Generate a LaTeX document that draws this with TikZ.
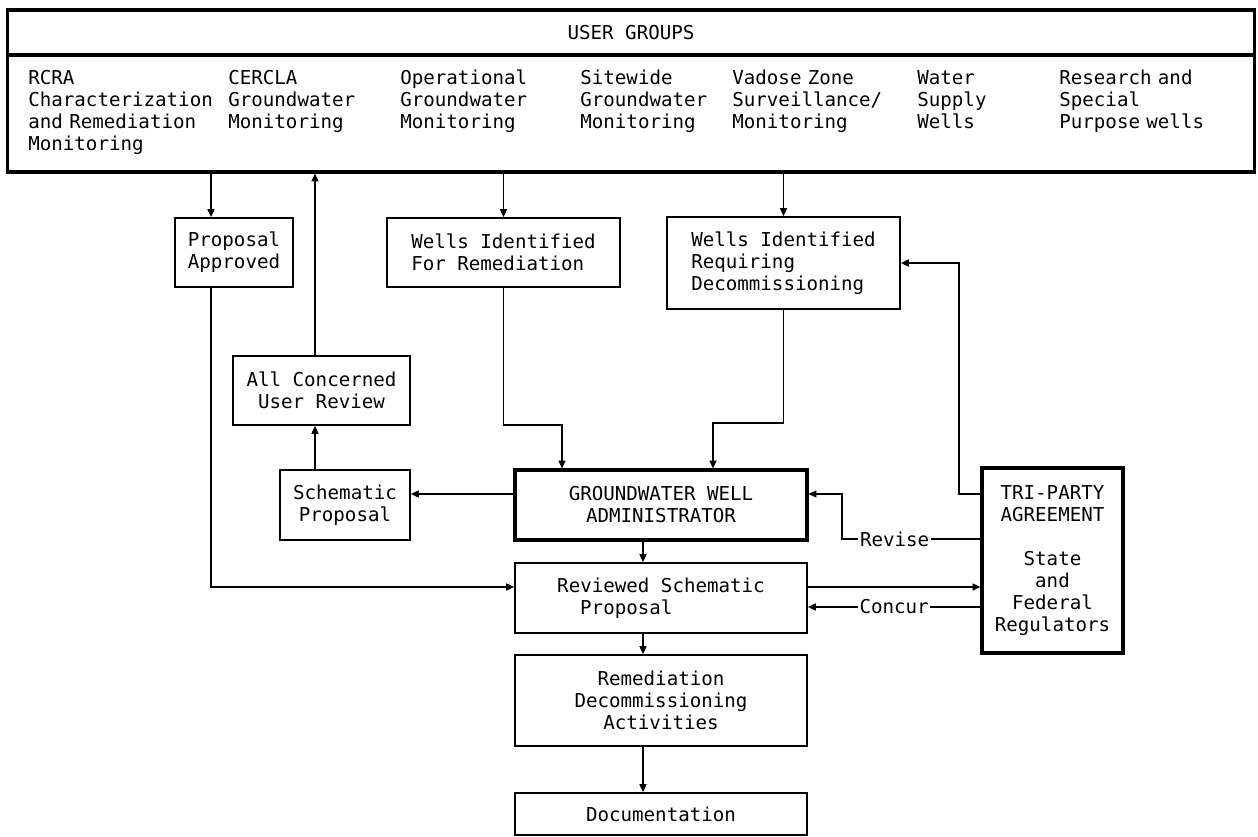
\documentclass[tikz,border=0pt]{standalone}
\usepackage{fontspec}
\setmonofont{DejaVu Sans Mono}
\usetikzlibrary{arrows.meta}

\begin{document}
\begin{tikzpicture}[x=0.02cm, y=-0.02cm,
  font=\ttfamily\fontsize{10.9}{12.5}\selectfont,
  box/.style={draw, line width=1pt, align=center, inner sep=2pt},
  heavy/.style={box, line width=1.8pt},
  grp/.style={anchor=base west, align=left, text width=4cm, inner sep=0pt},
  flow/.style={line width=0.8pt, -{Triangle[length=4.5pt, width=4pt]}},
  lbl/.style={fill=white, inner sep=1pt}]
\useasboundingbox (0,0) rectangle (1258,837);

% user groups
\node[heavy, minimum width=24.96cm, minimum height=0.9cm] (hdr) at (631,32.5) {USER GROUPS};
\node[heavy, minimum width=24.96cm, minimum height=2.34cm] (users) at (631,113.5) {};
\node[grp] (rcra) at (28,85) {RCRA\\Characterization\\and Remediation\\Monitoring};
\node[grp] (cercla) at (228,85) {CERCLA\\Groundwater\\Monitoring};
\node[grp] (oper) at (400,85) {Operational\\Groundwater\\Monitoring};
\node[grp] (site) at (580,85) {Sitewide\\Groundwater\\Monitoring};
\node[grp] (vadose) at (732,85) {Vadose Zone\\Surveillance/\\Monitoring};
\node[grp] (water) at (917,85) {Water\\Supply\\Wells};
\node[grp] (spec) at (1059,85) {Research and\\Special\\Purpose wells};

% process boxes
\node[box, minimum width=2.36cm, minimum height=1.38cm] (propapp) at (234,252.5) {Proposal\\Approved};
\node[box, align=left, minimum width=4.66cm, minimum height=1.38cm] (wrem) at (503.5,252.5) {Wells Identified\\For Remediation};
\node[box, align=left, minimum width=4.66cm, minimum height=1.84cm] (wdec) at (783.5,263) {Wells Identified\\Requiring\\Decommissioning};
\node[box, minimum width=3.54cm, minimum height=1.38cm] (allrev) at (321.5,390.5) {All Concerned\\User Review};
\node[box, minimum width=2.6cm, minimum height=1.4cm] (sch) at (345,505) {Schematic\\Proposal};
\node[heavy, minimum width=5.84cm, minimum height=1.4cm] (gwa) at (661,505) {GROUNDWATER WELL\\ADMINISTRATOR};
\node[box, align=left, minimum width=5.84cm, minimum height=1.4cm] (reviewed) at (661,598) {Reviewed Schematic\\\hspace*{1.2em}Proposal};
\node[box, minimum width=5.84cm, minimum height=1.82cm] (remed) at (661,700.5) {Remediation\\Decommissioning\\Activities};
\node[box, minimum width=5.84cm, minimum height=0.84cm] (doc) at (661,814) {Documentation};
\node[heavy, minimum width=2.82cm, minimum height=3.7cm] (tri) at (1052.5,560.5) {TRI-PARTY\\AGREEMENT\\[12.5pt]State\\and\\Federal\\Regulators};

% lanes and bends
\coordinate (laneA) at (211,0);
\coordinate (laneB) at (315,0);
\coordinate (laneC) at (643,0);
\coordinate (laneV) at (842,0);
\coordinate (laneR) at (959,0);
\coordinate (rowSch) at (0,494);
\coordinate (rowRev) at (0,539);
\coordinate (rowIn) at (0,587);
\coordinate (rowOk) at (0,607);
\coordinate (jogW) at (562,425);
\coordinate (jogD) at (713,423);

\draw[flow] (users.south -| laneA) -- (propapp.north -| laneA);
\draw[flow] (allrev.north -| laneB) -- (users.south -| laneB);
\draw[flow] (users.south -| wrem.north) -- (wrem.north);
\draw[flow] (users.south -| wdec.north) -- (wdec.north);
\draw[flow] (propapp.south -| laneA) |- (reviewed.west |- rowIn);
\draw[flow] (sch.north -| laneB) -- (allrev.south -| laneB);
\draw[flow] (gwa.west |- rowSch) -- (sch.east |- rowSch);
\draw[flow] (wrem.south) |- (jogW) -- (jogW |- gwa.north);
\draw[flow] (wdec.south) |- (jogD) -- (jogD |- gwa.north);
\draw[flow] (tri.west |- rowSch) -| (laneR |- wdec.east) -- (wdec.east);
\draw[flow] (tri.west |- rowRev) -| node[lbl, pos=0.31] {Revise} (laneV |- rowSch) -- (gwa.east |- rowSch);
\draw[flow] (reviewed.east |- rowIn) -- (tri.west |- rowIn);
\draw[flow] (tri.west |- rowOk) -- node[lbl] {Concur} (reviewed.east |- rowOk);
\draw[flow] (gwa.south -| laneC) -- (reviewed.north -| laneC);
\draw[flow] (reviewed.south -| laneC) -- (remed.north -| laneC);
\draw[flow] (remed.south -| laneC) -- (doc.north -| laneC);
\end{tikzpicture}
\end{document}
